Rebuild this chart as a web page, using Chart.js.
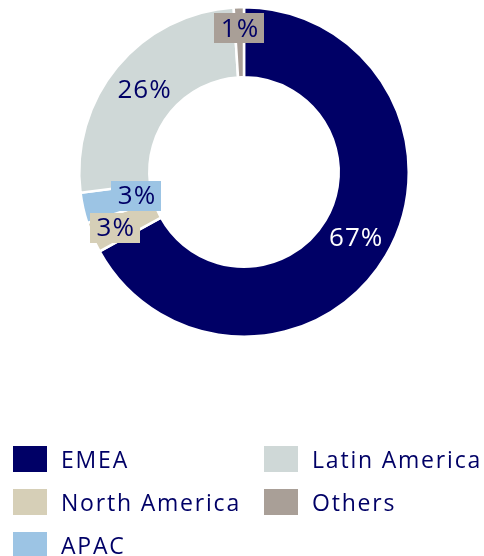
<!DOCTYPE html>
<html>
<head>
<meta charset="utf-8">
<script src="https://cdn.jsdelivr.net/npm/chart.js@4"></script>
<style>
  html, body { margin: 0; padding: 0; background: #ffffff; }
  body { width: 484px; height: 556px; position: relative; overflow: hidden; font-family: "Open Sans", "Noto Sans", sans-serif; }
  #wrap { position: absolute; left: 0; top: 0; width: 484px; height: 344px; }
  #legend { position: absolute; left: 0; top: 0; width: 484px; height: 556px; pointer-events: none; }
  .item { position: absolute; height: 26px; }
  .swatch { position: absolute; left: 0; top: 0; width: 34px; height: 26px; }
  .text { position: absolute; left: 48px; top: -2px; font-size: 23px; line-height: 30px; letter-spacing: 1.8px; color: #000066; white-space: nowrap; }
</style>
</head>
<body>
<div id="wrap"><canvas id="chart"></canvas></div>
<div id="legend"></div>
<script>
// Revenue split by region
const regions = ['EMEA', 'North America', 'APAC', 'Latin America', 'Others'];
const shares = [67, 3, 3, 26, 1];
const sliceColors = ['#000066', '#d6cfb7', '#9cc4e4', '#cfd8d7', '#a99f97'];
const labelInk = ['#ffffff', '#000066', '#000066', '#000066', '#000066'];

// Where each percentage label sits across the ring (0 = inner edge, 1 = outer edge)
// and whether it gets a backing box in the slice colour.
const labelStyle = [
  { depth: 0.5,  boxed: false },
  { depth: 0.65, boxed: true },
  { depth: 0.22, boxed: true },
  { depth: 0.5,  boxed: false },
  { depth: 0.70, boxed: true }
];

const sliceLabels = {
  id: 'sliceLabels',
  afterDatasetsDraw(chart) {
    const ctx = chart.ctx;
    const meta = chart.getDatasetMeta(0);
    const values = chart.data.datasets[0].data;
    ctx.save();
    ctx.font = '26px "Open Sans", "Noto Sans", sans-serif';
    ctx.letterSpacing = '1px';
    ctx.textAlign = 'center';
    ctx.textBaseline = 'middle';
    meta.data.forEach((arc, i) => {
      const p = arc.getProps(['x', 'y', 'startAngle', 'endAngle', 'innerRadius', 'outerRadius'], true);
      const mid = (p.startAngle + p.endAngle) / 2;
      const st = labelStyle[i];
      const r = p.innerRadius + (p.outerRadius - p.innerRadius) * st.depth;
      const cx = p.x + Math.cos(mid) * r;
      const cy = p.y + Math.sin(mid) * r;
      const txt = values[i] + '%';
      if (st.boxed) {
        const w = ctx.measureText(txt).width + 12;
        const h = 30;
        ctx.fillStyle = chart.data.datasets[0].backgroundColor[i];
        ctx.fillRect(Math.round(cx - w / 2), Math.round(cy - h / 2), Math.round(w), h);
      }
      ctx.fillStyle = labelInk[i];
      ctx.fillText(txt, cx + 0.5, cy + 1);
    });
    ctx.restore();
  }
};

const chart = new Chart(document.getElementById('chart'), {
  type: 'doughnut',
  data: {
    labels: regions,
    datasets: [{
      data: shares,
      backgroundColor: sliceColors,
      borderColor: '#ffffff',
      borderWidth: 2.5,
      hoverOffset: 0
    }]
  },
  options: {
    responsive: true,
    maintainAspectRatio: false,
    animation: false,
    cutout: '57.5%',
    layout: { padding: { top: 6, bottom: 6, left: 4, right: 0 } },
    plugins: {
      legend: { display: false },
      tooltip: { enabled: false }
    }
  },
  plugins: [sliceLabels]
});

// Legend, two columns filled top to bottom
const legend = document.getElementById('legend');
const colX = [13, 264];
const rowY = [446, 489, 532];
const perColumn = 3;
regions.forEach((name, i) => {
  const col = Math.floor(i / perColumn);
  const row = i % perColumn;
  const item = document.createElement('div');
  item.className = 'item';
  item.style.left = colX[col] + 'px';
  item.style.top = rowY[row] + 'px';
  const sw = document.createElement('div');
  sw.className = 'swatch';
  sw.style.background = sliceColors[i];
  const tx = document.createElement('div');
  tx.className = 'text';
  tx.textContent = name;
  item.appendChild(sw);
  item.appendChild(tx);
  legend.appendChild(item);
});
</script>
</body>
</html>
